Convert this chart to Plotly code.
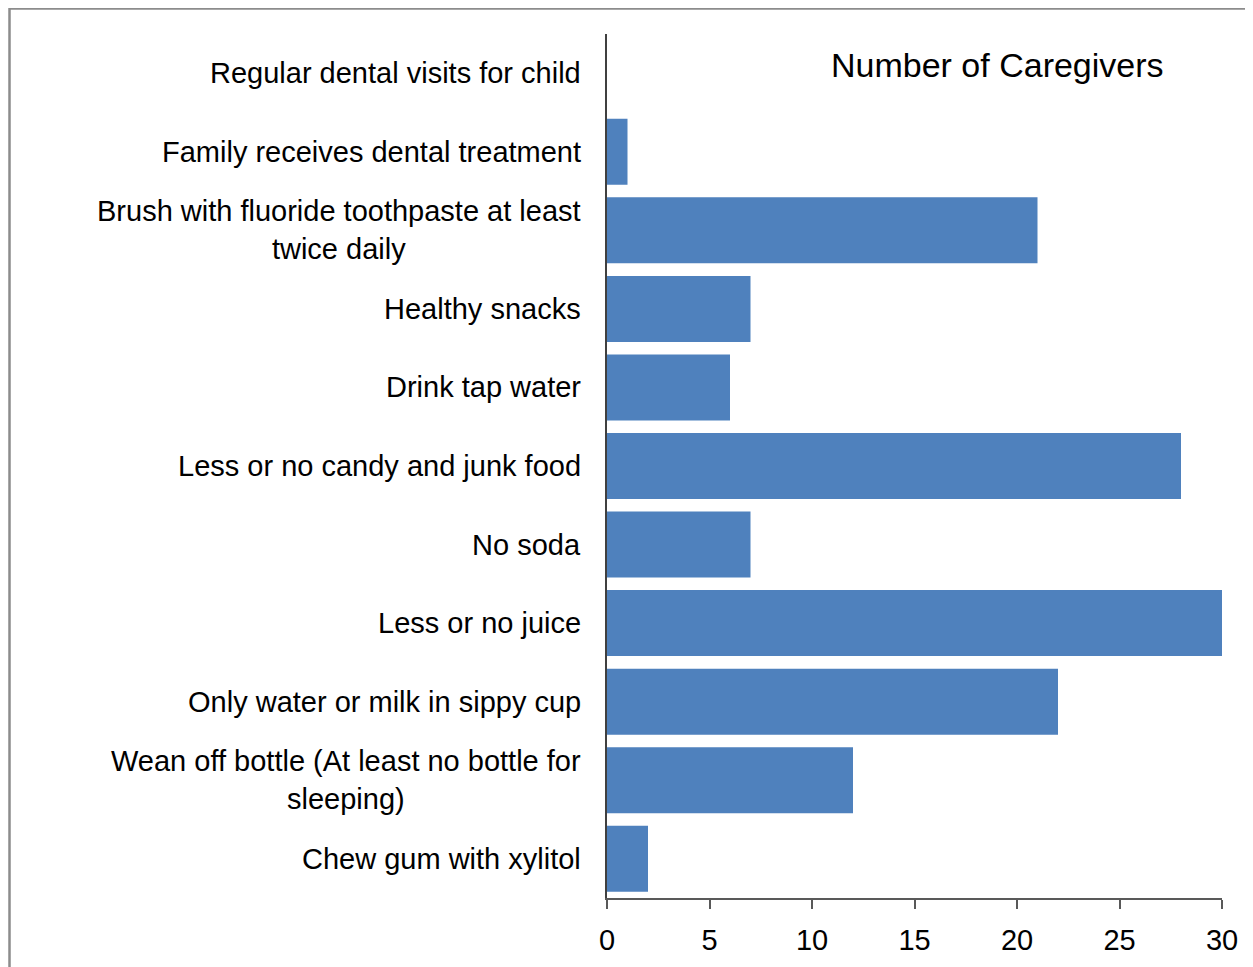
import plotly.graph_objects as go

categories = [
    "Regular dental visits for child",
    "Family receives dental treatment",
    "Brush with fluoride toothpaste at least<br>twice daily",
    "Healthy snacks",
    "Drink tap water",
    "Less or no candy and junk food",
    "No soda",
    "Less or no juice",
    "Only water or milk in sippy cup",
    "Wean off bottle (At least no bottle for<br>sleeping)",
    "Chew gum with xylitol",
]
values = [0, 1, 21, 7, 6, 28, 7, 30, 22, 12, 2]
x_ticks = [0, 5, 10, 15, 20, 25, 30]
axis_title = "Number of Caregivers"

FONT = "Liberation Sans, Arial, sans-serif"

fig = go.Figure()
fig.add_trace(go.Bar(
    y=list(range(len(categories))),
    x=values,
    orientation="h",
    marker=dict(color="#4F81BD", line=dict(width=0)),
    hoverinfo="x",
))

annotations = []
for i, c in enumerate(categories):
    annotations.append(dict(
        x=0, y=i, xref="x", yref="y", text=c, showarrow=False,
        xanchor="right", yanchor="middle", align="center", xshift=-24,
        font=dict(family=FONT, size=29, color="#000000"),
    ))
annotations.append(dict(
    x=0.635, y=0.964, xref="paper", yref="paper", text=axis_title,
    showarrow=False, xanchor="center", yanchor="middle",
    font=dict(family=FONT, size=34, color="#000000"),
))

fig.update_layout(
    width=1253, height=967,
    margin=dict(l=599, r=39, t=26, b=77),
    paper_bgcolor="white", plot_bgcolor="white",
    showlegend=False,
    bargap=0.16,
    annotations=annotations,
    font=dict(family=FONT, size=29, color="#000000"),
    xaxis=dict(
        range=[0, 30], tickvals=x_ticks, ticks="outside", ticklen=9,
        tickcolor="#595959", tickwidth=2, showline=True, linecolor="#595959",
        linewidth=2, showgrid=False, zeroline=False, ticklabelstandoff=6,
        tickfont=dict(family=FONT, size=29, color="#000000"),
    ),
    yaxis=dict(
        range=[len(categories) - 0.5, -0.5], showticklabels=False,
        showline=True, linecolor="#404040", linewidth=2, ticks="",
        showgrid=False, zeroline=False,
    ),
    shapes=[dict(
        type="rect", xref="paper", yref="paper",
        x0=(1.5 - 599) / 615, x1=1.3, y0=-0.3, y1=(890 - 0.5) / 864,
        line=dict(color="#8C8C8C", width=2.5), fillcolor="rgba(0,0,0,0)",
        layer="above",
    )],
)

fig.write_html("out.html")
